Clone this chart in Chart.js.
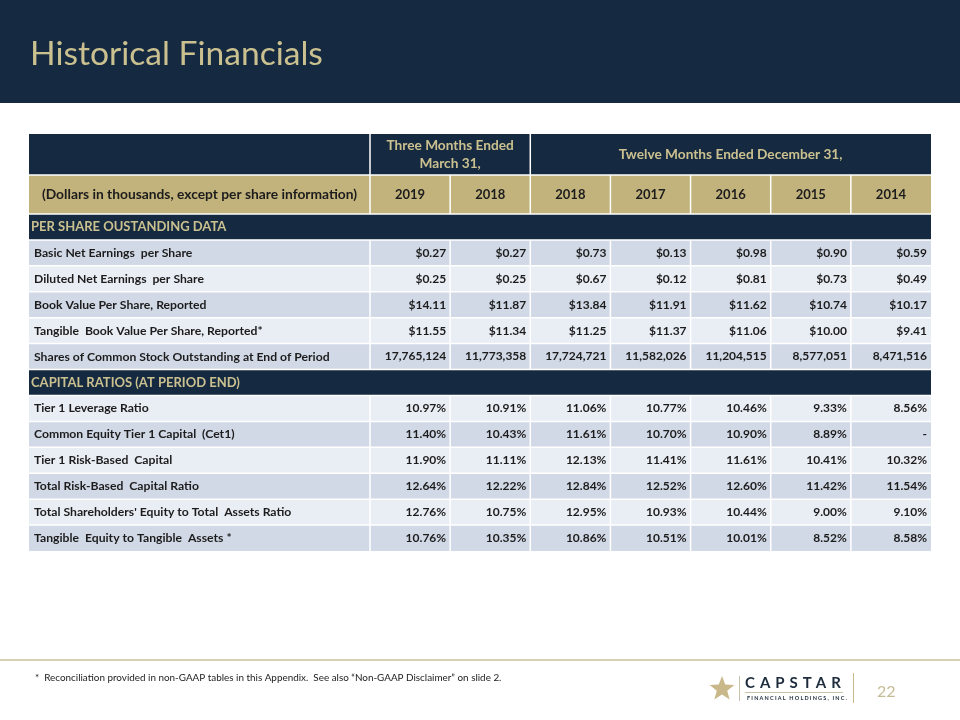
<!DOCTYPE html>
<html><head><meta charset="utf-8">
<script src="https://cdn.jsdelivr.net/npm/chart.js@4.4.1/dist/chart.umd.min.js"></script>
<style>html,body{margin:0;padding:0;background:#fff;}canvas{display:block}</style>
</head><body>
<canvas id="c" width="960" height="720"></canvas>
<script>
// ---------- DATA ----------
const slideTitle = 'Historical Financials';
const periodGroups = [['Three Months Ended', 'March 31,'], ['Twelve Months Ended December 31,']];
const periodGroupSpans = [2, 5];
const headerCaption = '(Dollars in thousands, except per share information)';
const columnYears = ['2019', '2018', '2018', '2017', '2016', '2015', '2014'];

const perShareSection = 'PER SHARE OUSTANDING DATA';
const perShareLabels = [
  'Basic Net Earnings  per Share',
  'Diluted Net Earnings  per Share',
  'Book Value Per Share, Reported',
  'Tangible  Book Value Per Share, Reported*',
  'Shares of Common Stock Outstanding at End of Period'
];
const basicEPS = [0.27, 0.27, 0.73, 0.13, 0.98, 0.90, 0.59];
const dilutedEPS = [0.25, 0.25, 0.67, 0.12, 0.81, 0.73, 0.49];
const bookValuePerShare = [14.11, 11.87, 13.84, 11.91, 11.62, 10.74, 10.17];
const tangibleBookValuePerShare = [11.55, 11.34, 11.25, 11.37, 11.06, 10.00, 9.41];
const sharesOutstanding = [17765124, 11773358, 17724721, 11582026, 11204515, 8577051, 8471516];

const capitalSection = 'CAPITAL RATIOS (AT PERIOD END)';
const capitalLabels = [
  'Tier 1 Leverage Ratio',
  'Common Equity Tier 1 Capital  (Cet1)',
  'Tier 1 Risk-Based  Capital',
  'Total Risk-Based  Capital Ratio',
  "Total Shareholders' Equity to Total  Assets Ratio",
  'Tangible  Equity to Tangible  Assets *'
];
const tier1Leverage = [10.97, 10.91, 11.06, 10.77, 10.46, 9.33, 8.56];
const cet1Capital = [11.40, 10.43, 11.61, 10.70, 10.90, 8.89, null];
const tier1RiskBased = [11.90, 11.11, 12.13, 11.41, 11.61, 10.41, 10.32];
const totalRiskBased = [12.64, 12.22, 12.84, 12.52, 12.60, 11.42, 11.54];
const equityToAssets = [12.76, 10.75, 12.95, 10.93, 10.44, 9.00, 9.10];
const tangibleEquityToAssets = [10.76, 10.35, 10.86, 10.51, 10.01, 8.52, 8.58];

const footnote = '*  Reconciliation provided in non-GAAP tables in this Appendix.  See also \u201cNon-GAAP Disclaimer\u201d on slide 2.';
const pageNumber = '22';

// ---------- BUILD TABLE ----------
const money = v => '$' + v.toFixed(2);
const count = v => v.toLocaleString('en-US');
const pct = v => v == null ? '-' : v.toFixed(2) + '%';

const perShareValues = [basicEPS, dilutedEPS, bookValuePerShare, tangibleBookValuePerShare, sharesOutstanding];
const perShareFormats = [money, money, money, money, count];
const capitalValues = [tier1Leverage, cet1Capital, tier1RiskBased, totalRiskBased, equityToAssets, tangibleEquityToAssets];

const bodyRows = [];
bodyRows.push({ kind: 'section', label: perShareSection });
perShareLabels.forEach((l, i) => bodyRows.push({ kind: 'data', label: l, values: perShareValues[i], fmt: perShareFormats[i] }));
bodyRows.push({ kind: 'section', label: capitalSection });
capitalLabels.forEach((l, i) => bodyRows.push({ kind: 'data', label: l, values: capitalValues[i], fmt: pct }));

// ---------- STYLE ----------
const NAVY = '#152a40';
const GOLD = '#c2b27c';
const GOLD_TEXT = '#cbc08f';
const ROW_DARK = '#d2d9e6';
const ROW_LIGHT = '#e9edf4';
const INK = '#1c1c1c';
const FONT = 'Lato, "Open Sans", sans-serif';
const TABLE_LEFT = 29;
const HEADER1_H = 41;
const HEADER2_H = 39;

const tablePlugin = {
  id: 'tablePlugin',
  afterDraw(chart) {
    const ctx = chart.ctx;
    const xs = chart.scales.x, ys = chart.scales.y;
    const area = chart.chartArea;
    const colW = area.width / columnYears.length;
    const rowH = area.height / bodyRows.length;
    const colLeft = i => xs.getPixelForTick(i) - colW / 2;
    const rowTop = i => ys.getPixelForTick(i) - rowH / 2;
    const tableRight = area.right;
    ctx.save();

    // slide header band
    ctx.fillStyle = NAVY;
    ctx.fillRect(0, 0, 960, 103);
    ctx.fillStyle = GOLD_TEXT;
    ctx.font = '33.6px ' + FONT;
    ctx.textBaseline = 'alphabetic';
    ctx.textAlign = 'left';
    ctx.fillText(slideTitle, 30, 65);

    // header row 1
    const h1Top = area.top - HEADER2_H - HEADER1_H;
    const h2Top = area.top - HEADER2_H;
    ctx.fillStyle = NAVY;
    ctx.fillRect(TABLE_LEFT, h1Top, tableRight - TABLE_LEFT, HEADER1_H);
    ctx.fillStyle = GOLD_TEXT;
    ctx.font = 'bold 13.7px ' + FONT;
    ctx.textAlign = 'center';
    ctx.textBaseline = 'middle';
    let ci = 0;
    periodGroups.forEach((lines, gi) => {
      const l = colLeft(ci), r = colLeft(ci) + colW * periodGroupSpans[gi];
      const cx = (l + r) / 2;
      const cy = h1Top + HEADER1_H / 2;
      if (lines.length === 2) {
        ctx.fillText(lines[0], cx, cy - 9);
        ctx.fillText(lines[1], cx, cy + 9);
      } else {
        ctx.fillText(lines[0], cx, cy);
      }
      ci += periodGroupSpans[gi];
    });

    // header row 2 (gold)
    ctx.fillStyle = GOLD;
    ctx.fillRect(TABLE_LEFT, h2Top, tableRight - TABLE_LEFT, HEADER2_H);
    ctx.fillStyle = INK;
    ctx.font = 'bold 13.8px ' + FONT;
    ctx.fillText(headerCaption, (TABLE_LEFT + area.left) / 2, h2Top + HEADER2_H / 2);
    ctx.font = 'bold 13px ' + FONT;
    columnYears.forEach((y, i) => ctx.fillText(y, xs.getPixelForTick(i), h2Top + HEADER2_H / 2));

    // body rows
    let dataIdx = 0;
    bodyRows.forEach((row, ri) => {
      const top = rowTop(ri);
      const cy = top + rowH / 2;
      if (row.kind === 'section') {
        ctx.fillStyle = NAVY;
        ctx.fillRect(TABLE_LEFT, top, tableRight - TABLE_LEFT, rowH);
        ctx.fillStyle = GOLD_TEXT;
        ctx.font = 'bold 13px ' + FONT;
        ctx.textAlign = 'left';
        ctx.fillText(row.label, TABLE_LEFT + 2, cy);
      } else {
        ctx.fillStyle = dataIdx % 2 === 0 ? ROW_DARK : ROW_LIGHT;
        ctx.fillRect(TABLE_LEFT, top, tableRight - TABLE_LEFT, rowH);
        ctx.fillStyle = INK;
        ctx.font = 'bold 12.2px ' + FONT;
        ctx.textAlign = 'left';
        ctx.fillText(row.label, TABLE_LEFT + 5, cy);
        ctx.font = 'bold 12px ' + FONT;
        ctx.textAlign = 'right';
        row.values.forEach((v, i) => ctx.fillText(row.fmt(v), colLeft(i) + colW - 4, cy));
        dataIdx++;
      }
    });

    // grid lines (white)
    ctx.strokeStyle = '#ffffff';
    ctx.lineWidth = 1.5;
    ctx.beginPath();
    ctx.moveTo(TABLE_LEFT, h2Top); ctx.lineTo(tableRight, h2Top);
    ctx.moveTo(TABLE_LEFT, area.top); ctx.lineTo(tableRight, area.top);
    for (let ri = 1; ri < bodyRows.length; ri++) {
      const yy = rowTop(ri);
      ctx.moveTo(TABLE_LEFT, yy); ctx.lineTo(tableRight, yy);
    }
    ctx.stroke();
    ctx.beginPath();
    ctx.moveTo(area.left, h1Top); ctx.lineTo(area.left, h2Top);
    ctx.moveTo(colLeft(periodGroupSpans[0]), h1Top); ctx.lineTo(colLeft(periodGroupSpans[0]), h2Top);
    for (let i = 0; i < columnYears.length; i++) {
      ctx.moveTo(colLeft(i), h2Top); ctx.lineTo(colLeft(i), area.top);
    }
    bodyRows.forEach((row, ri) => {
      if (row.kind !== 'data') return;
      const top = rowTop(ri);
      for (let i = 0; i < columnYears.length; i++) {
        ctx.moveTo(colLeft(i), top); ctx.lineTo(colLeft(i), top + rowH);
      }
    });
    ctx.stroke();

    // footer rule
    ctx.strokeStyle = '#c9c09b';
    ctx.lineWidth = 1.5;
    ctx.beginPath();
    ctx.moveTo(0, 660); ctx.lineTo(960, 660);
    ctx.stroke();

    // footnote
    ctx.fillStyle = '#222';
    ctx.font = '9.9px ' + FONT;
    ctx.textAlign = 'left';
    ctx.textBaseline = 'middle';
    ctx.fillText(footnote, 35, 678);

    // logo star
    const sx = 722, sy = 689, ro = 13, rin = 5.5;
    ctx.fillStyle = '#c9b98a';
    ctx.beginPath();
    for (let k = 0; k < 10; k++) {
      const r = k % 2 === 0 ? ro : rin;
      const a = -Math.PI / 2 + k * Math.PI / 5;
      const px = sx + r * Math.cos(a), py = sy + r * Math.sin(a);
      if (k === 0) ctx.moveTo(px, py); else ctx.lineTo(px, py);
    }
    ctx.closePath();
    ctx.fill();
    ctx.strokeStyle = '#c8c2aa';
    ctx.lineWidth = 1;
    ctx.beginPath();
    ctx.moveTo(739.5, 676); ctx.lineTo(739.5, 701);
    ctx.moveTo(745, 692.5); ctx.lineTo(843, 692.5);
    ctx.stroke();
    ctx.fillStyle = '#1d2b3c';
    ctx.font = 'bold 15px ' + FONT;
    ctx.letterSpacing = '5px';
    ctx.textBaseline = 'alphabetic';
    ctx.fillText('CAPSTAR', 745, 688);
    ctx.font = 'bold 5.5px ' + FONT;
    ctx.letterSpacing = '1.2px';
    ctx.fillText('FINANCIAL HOLDINGS, INC.', 747, 700);
    ctx.letterSpacing = '0px';
    ctx.strokeStyle = '#c9b98a';
    ctx.beginPath();
    ctx.moveTo(853.5, 673); ctx.lineTo(853.5, 703);
    ctx.stroke();
    ctx.fillStyle = '#c5bb95';
    ctx.font = '16px ' + FONT;
    ctx.textBaseline = 'middle';
    ctx.fillText(pageNumber, 877, 692);

    ctx.restore();
  }
};

new Chart(document.getElementById('c'), {
  type: 'bar',
  data: { labels: columnYears, datasets: [] },
  options: {
    responsive: false,
    animation: false,
    devicePixelRatio: 1,
    layout: { padding: { left: 370, right: 29, top: 214, bottom: 169 } },
    plugins: { legend: { display: false }, tooltip: { enabled: false } },
    scales: {
      x: { type: 'category', labels: columnYears, offset: true, display: false },
      y: { type: 'category', labels: bodyRows.map(r => r.label), offset: true, display: false }
    }
  },
  plugins: [tablePlugin]
});
</script>
</body></html>
